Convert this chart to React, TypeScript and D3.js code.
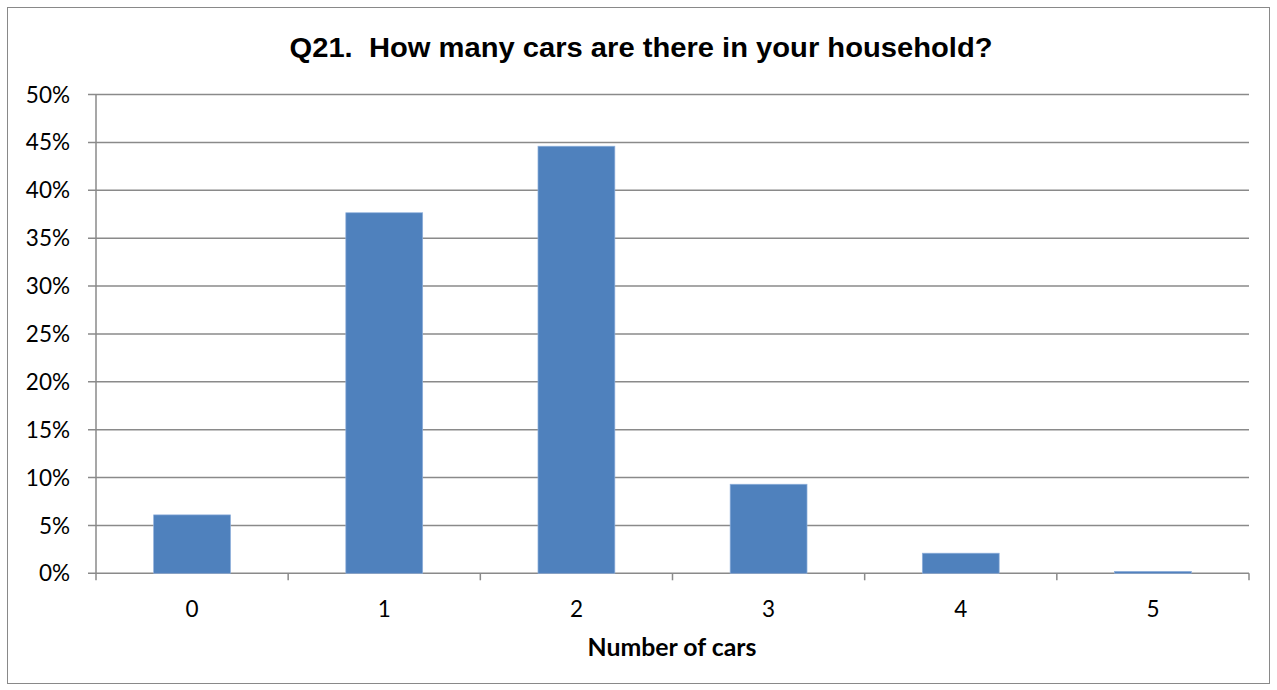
import React from "react";
import * as d3 from "d3";

const categories = ["0", "1", "2", "3", "4", "5"];
const values = [6.1, 37.65, 44.6, 9.3, 2.1, 0.2];
const yTicks = [0, 5, 10, 15, 20, 25, 30, 35, 40, 45, 50];
const title = "Q21.  How many cars are there in your household?";
const xTitle = "Number of cars";

export default function App() {
  const W = 1277, H = 690;
  const left = 96, right = 1249, top = 94.5, bottom = 573.3;
  const x = d3.scaleBand<string>().domain(categories).range([left, right]).paddingInner(0.6).paddingOuter(0.3);
  const band = d3.scaleBand<string>().domain(categories).range([left, right]);
  const y = d3.scaleLinear().domain([0, 50]).range([bottom, top]);
  const tickFont = "Lato, 'Open Sans', sans-serif";
  return (
    <svg width={W} height={H} style={{ position: "absolute", left: 0, top: 0 }}>
      <rect x={0} y={0} width={W} height={H} fill="#fff" />
      <rect x={7.5} y={7.5} width={1262} height={676} fill="none" stroke="#898989" strokeWidth={1} />
      <text x={641} y={57} textAnchor="middle" fontFamily="'Liberation Sans', Arial, sans-serif" fontWeight="bold" fontSize={27.5} fill="#000" style={{ whiteSpace: "pre" }} textLength={703} lengthAdjust="spacingAndGlyphs">{title}</text>
      {yTicks.map(t => (
        <g key={t}>
          <line x1={88} x2={right} y1={y(t)} y2={y(t)} stroke="#8a8a8a" strokeWidth={1.5} />
          <text x={70} y={y(t)} dy="0.36em" textAnchor="end" fontFamily={tickFont} fontSize={22.5} fill="#000">{t}%</text>
        </g>
      ))}
      <line x1={left} x2={left} y1={top} y2={bottom + 7} stroke="#8a8a8a" strokeWidth={1.5} />
      {categories.map(c => (
        <line key={"t" + c} x1={band(c)! + band.bandwidth()} x2={band(c)! + band.bandwidth()} y1={bottom} y2={bottom + 7} stroke="#8a8a8a" strokeWidth={1.5} />
      ))}
      {categories.map((c, i) => (
        <rect key={"b" + c} x={x(c)} y={y(values[i])} width={x.bandwidth()} height={bottom - y(values[i])} fill="#4F81BD" stroke="#8fb0dc" strokeWidth={0.7} />
      ))}
      {categories.map(c => (
        <text key={"l" + c} x={band(c)! + band.bandwidth() / 2} y={617} textAnchor="middle" fontFamily={tickFont} fontSize={22.5} fill="#000">{c}</text>
      ))}
      <text x={672} y={656} textAnchor="middle" fontFamily={tickFont} fontWeight="bold" fontSize={24} fill="#000" textLength={169} lengthAdjust="spacingAndGlyphs">{xTitle}</text>
    </svg>
  );
}
